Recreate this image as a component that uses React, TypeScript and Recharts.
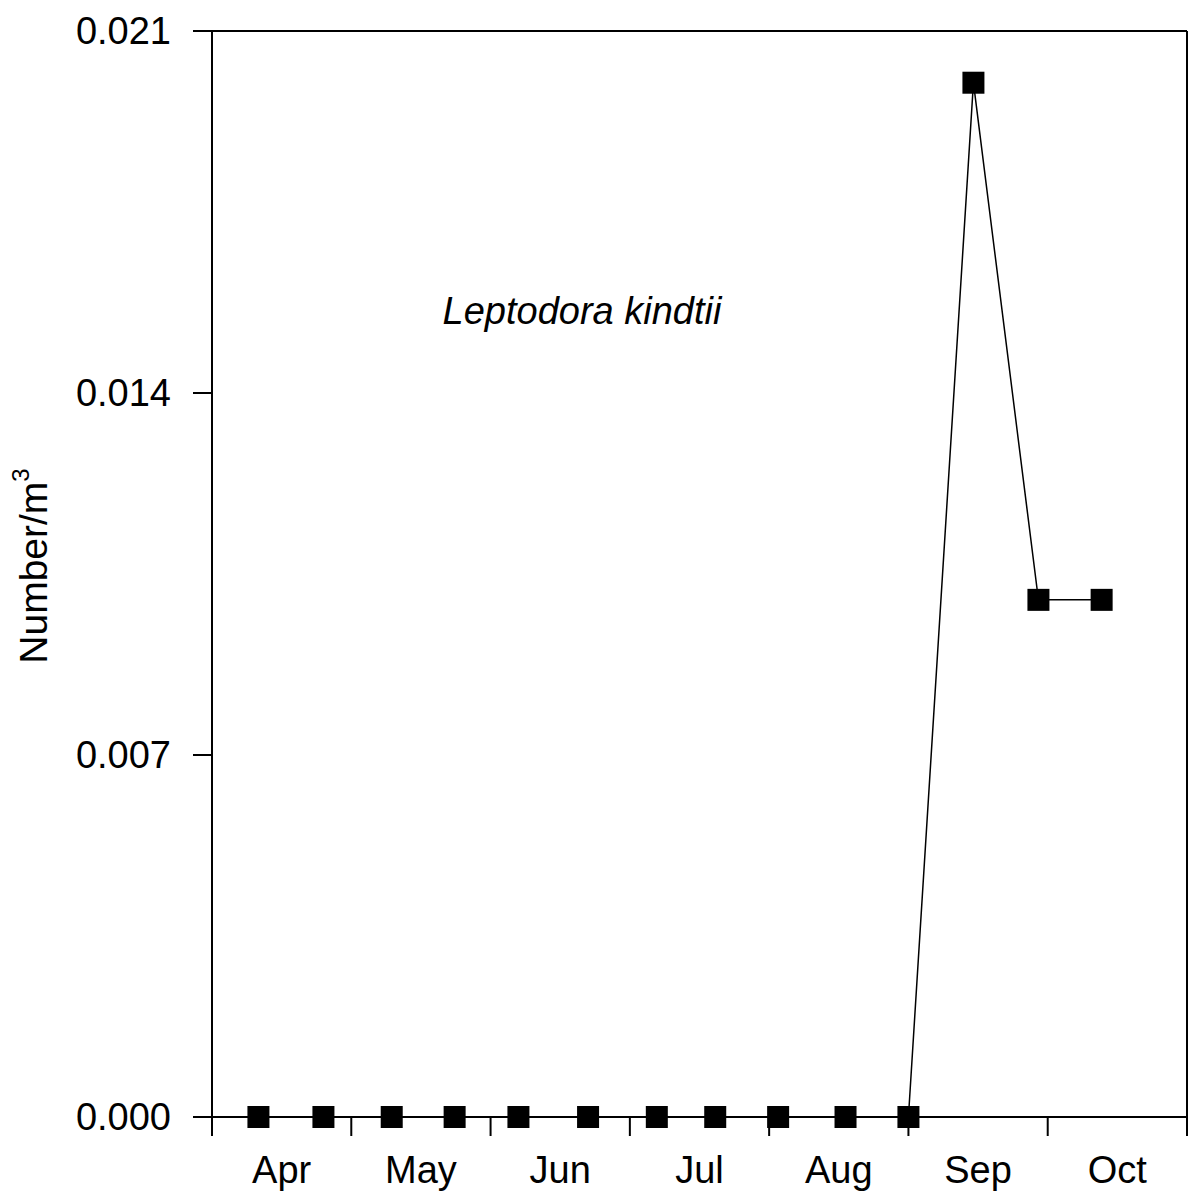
import React from 'react';
import {
  LineChart,
  Line,
  XAxis,
  YAxis,
  ReferenceLine,
  Customized,
} from 'recharts';

// Sampling dates (MM-DD) and densities (number per m³)
const sampleDates = [
  '04-11', '04-25', '05-10', '05-24', '06-07', '06-22', '07-07',
  '07-20', '08-03', '08-18', '09-01', '09-15', '09-29', '10-13',
];
const density = [
  0, 0, 0, 0, 0, 0, 0,
  0, 0, 0, 0, 0.02, 0.01, 0.01,
];

const months = ['Apr', 'May', 'Jun', 'Jul', 'Aug', 'Sep', 'Oct'];
const daysInMonth = [30, 31, 30, 31, 31, 30, 31];
const yTicks = [0, 0.007, 0.014, 0.021];

const FONT = '"Liberation Sans", Arial, sans-serif';

// month position: 0 = start of April, 7 = end of October
const toMonthPos = (d: string) => {
  const [m, day] = d.split('-').map(Number);
  const idx = m - 4;
  return idx + (day - 1) / daysInMonth[idx];
};

const data = sampleDates.map((d, i) => ({ t: toMonthPos(d), v: density[i] }));

// boundaries get a tick mark, mid-month positions get the month name
const xTicks: number[] = [];
for (let i = 0; i <= months.length; i++) {
  xTicks.push(i);
  if (i < months.length) xTicks.push(i + 0.5);
}

const MonthTick = (props: any) => {
  const { x, y, payload } = props;
  const v = payload.value;
  if (Number.isInteger(v)) {
    return <line x1={x} x2={x} y1={y} y2={y + 19} stroke="#000" strokeWidth={2} />;
  }
  return (
    <text x={x} y={y + 66} textAnchor="middle" fontFamily={FONT} fontSize={38} fill="#000">
      {months[Math.floor(v)]}
    </text>
  );
};

const SquareDot = (props: any) => {
  const { cx, cy } = props;
  if (cx == null || cy == null) return null;
  return <rect x={cx - 11} y={cy - 11} width={22} height={22} fill="#000" />;
};

const Labels = () => (
  <g fontFamily={FONT} fill="#000">
    <text x={582} y={324} textAnchor="middle" fontSize={38} fontStyle="italic">
      Leptodora kindtii
    </text>
    <text transform="translate(47,566) rotate(-90)" textAnchor="middle" fontSize={39}>
      Number/m
      <tspan fontSize={24} dy={-18}>3</tspan>
    </text>
  </g>
);

export default function App() {
  return (
    <div style={{ position: 'absolute', left: 0, top: 0, background: '#fff' }}>
      <LineChart
        width={1188}
        height={1194}
        data={data}
        margin={{ top: 31, right: 1, bottom: 17, left: 0 }}
      >
        <XAxis
          dataKey="t"
          type="number"
          domain={[0, months.length]}
          ticks={xTicks}
          interval={0}
          height={60}
          tickLine={false}
          tickSize={0}
          tickMargin={0}
          tick={<MonthTick />}
          axisLine={{ stroke: '#000', strokeWidth: 2 }}
        />
        <YAxis
          type="number"
          domain={[0, 0.021]}
          ticks={yTicks}
          interval={0}
          width={212}
          tickSize={19}
          tickMargin={22}
          tickFormatter={(v: number) => v.toFixed(3)}
          tick={{ fill: '#000', fontSize: 38, fontFamily: FONT }}
          tickLine={{ stroke: '#000', strokeWidth: 2 }}
          axisLine={{ stroke: '#000', strokeWidth: 2 }}
        />
        <ReferenceLine y={0.021} stroke="#000" strokeWidth={2} />
        <ReferenceLine x={months.length} stroke="#000" strokeWidth={2} />
        <Line
          dataKey="v"
          stroke="#000"
          strokeWidth={1.5}
          dot={<SquareDot />}
          activeDot={false}
          isAnimationActive={false}
        />
        <Customized component={Labels} />
      </LineChart>
    </div>
  );
}
